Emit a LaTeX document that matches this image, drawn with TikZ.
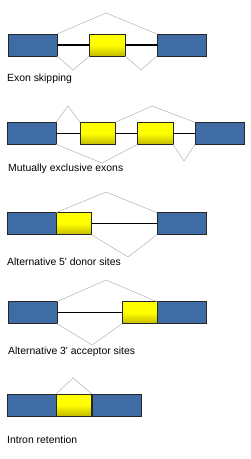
\documentclass[tikz,border=0pt]{standalone}
\usepackage{fontspec}
\newfontfamily\lblfont{Liberation Sans}
\definecolor{exonblue}{RGB}{64,108,165}
\definecolor{exonyellow}{RGB}{255,255,0}
\definecolor{exonyellowdark}{RGB}{195,185,0}
\tikzset{
  exon/.style={draw=black!85, line width=0.5pt, inner sep=0pt, outer sep=0pt, anchor=north west, minimum height=22pt},
  constit/.style={exon, fill=exonblue, minimum width=49pt},
  altexon/.style={exon, top color=exonyellow, bottom color=exonyellowdark, middle color=exonyellow, minimum width=35.5pt},
  intron/.style={draw=black, line width=1.1pt},
  splice/.style={draw=black!30, line width=0.5pt},
  lbl/.style={anchor=base west, inner sep=0pt, font=\lblfont\fontsize{10.4}{12}\selectfont}
}
\begin{document}
\begin{tikzpicture}[x=1pt,y=-1pt]
\useasboundingbox (0,0) rectangle (250,459);
% Row 1: Exon skipping
\node[constit] (r1a) at (8,34) {};
\node[altexon] (r1b) at (89.5,34) {};
\node[constit] (r1c) at (157,34) {};
\draw[intron] (r1a.east) -- (r1b.west);
\draw[intron] (r1b.east) -- (r1c.west);
\coordinate (r1p) at (106,13);
\coordinate (r1q) at (73,70);
\coordinate (r1r) at (141,70);
\draw[splice] (r1a.north east) -- (r1p) -- (r1c.north west);
\draw[splice] (r1a.south east) -- (r1q) -- (r1b.south west);
\draw[splice] (r1b.south east) -- (r1r) -- (r1c.south west);
\node[lbl] (l1) at (7,81.3) {Exon skipping};
% Row 2: Mutually exclusive exons
\node[constit] (r2a) at (7,122.3) {};
\node[altexon] (r2b) at (80,122.3) {};
\node[altexon] (r2c) at (137.5,122.3) {};
\node[constit] (r2d) at (195,122.3) {};
\draw[intron] (r2a.east) -- (r2b.west);
\draw[intron] (r2b.east) -- (r2c.west);
\draw[intron] (r2c.east) -- (r2d.west);
\coordinate (r2p) at (68,106);
\coordinate (r2q) at (152,106);
\coordinate (r2r) at (102,163);
\coordinate (r2s) at (184,161);
\draw[splice] (r2a.north east) -- (r2p) -- (r2b.north west);
\draw[splice] (r2b.north east) -- (r2q) -- (r2d.north west);
\draw[splice] (r2a.south east) -- (r2r) -- (r2c.south west);
\draw[splice] (r2c.south east) -- (r2s) -- (r2d.south west);
\node[lbl] (l2) at (8,171.3) {Mutually exclusive exons};
% Row 3: Alternative 5' donor sites
\node[constit] (r3a) at (7,212.7) {};
\node[altexon] (r3b) at (56,212.7) {};
\node[constit] (r3c) at (157,212.7) {};
\draw[intron] (r3b.east) -- (r3c.west);
\coordinate (r3p) at (106,192);
\coordinate (r3q) at (128,257);
\draw[splice] (r3a.north east) -- (r3p) -- (r3c.north west);
\draw[splice] (r3b.south east) -- (r3q) -- (r3c.south west);
\node[lbl] (l3) at (7,265.6) {Alternative 5' donor sites};
% Row 4: Alternative 3' acceptor sites
\node[constit] (r4a) at (8,301.7) {};
\node[altexon] (r4b) at (122,301.7) {};
\node[constit] (r4c) at (157,301.7) {};
\draw[intron] (r4a.east) -- (r4b.west);
\coordinate (r4p) at (106,280);
\coordinate (r4q) at (92,345);
\draw[splice] (r4a.north east) -- (r4p) -- (r4c.north west);
\draw[splice] (r4a.south east) -- (r4q) -- (r4b.south west);
\node[lbl] (l4) at (8,354.6) {Alternative 3' acceptor sites};
% Row 5: Intron retention
\node[constit] (r5a) at (7,394) {};
\node[altexon] (r5b) at (56,394) {};
\node[constit] (r5c) at (92,394) {};
\coordinate (r5p) at (73,378);
\draw[splice] (r5a.north east) -- (r5p) -- (r5c.north west);
\node[lbl] (l5) at (7,443.3) {Intron retention};
\end{tikzpicture}
\end{document}
